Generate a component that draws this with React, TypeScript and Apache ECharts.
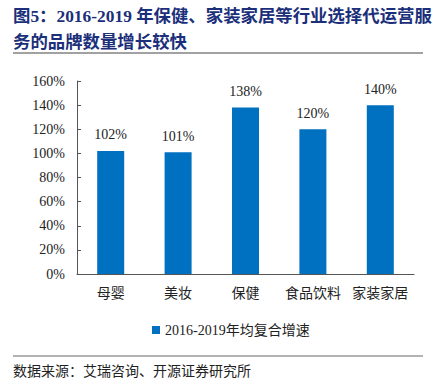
import React, { useEffect, useRef } from "react";
import * as echarts from "echarts";

const categories = ["母婴", "美妆", "保健", "食品饮料", "家装家居"];
const growthValues = [102, 101, 138, 120, 140];
const seriesName = "2016-2019年均复合增速";
const titleLine1 = "图5：2016-2019 年保健、家装家居等行业选择代运营服";
const titleLine2 = "务的品牌数量增长较快";
const sourceText = "数据来源：艾瑞咨询、开源证券研究所";

const SERIF = "'Liberation Serif', 'Noto Sans CJK SC', serif";

export default function App() {
  const ref = useRef<HTMLDivElement>(null);
  useEffect(() => {
    if (!ref.current) return;
    const chart = echarts.init(ref.current, undefined, { renderer: "svg" });
    chart.setOption({
      animation: false,
      backgroundColor: "#ffffff",
      grid: { left: 77, right: 21, top: 81, bottom: 111, containLabel: false },
      legend: {
        data: [seriesName],
        left: 147,
        top: 318,
        icon: "rect",
        itemWidth: 8,
        itemHeight: 8,
        itemGap: 10,
        textStyle: { fontFamily: SERIF, fontSize: 14, color: "#222" },
      },
      xAxis: {
        type: "category",
        data: categories,
        axisLine: { lineStyle: { color: "#555", width: 1 } },
        axisTick: { inside: true, length: 4, lineStyle: { color: "#555" } },
        axisLabel: { interval: 0, hideOverlap: false, fontFamily: SERIF, fontSize: 14, color: "#222", margin: 12 },
      },
      yAxis: {
        type: "value",
        min: 0,
        max: 160,
        interval: 20,
        axisLine: { show: true, lineStyle: { color: "#555", width: 1 } },
        axisTick: { show: true, inside: true, length: 4, lineStyle: { color: "#555" } },
        splitLine: { show: false },
        axisLabel: { formatter: "{value}%", fontFamily: SERIF, fontSize: 14, color: "#222", margin: 12 },
      },
      series: [
        {
          name: seriesName,
          type: "bar",
          data: growthValues,
          barWidth: 27,
          itemStyle: { color: "#0070C0" },
          label: {
            show: true,
            position: "top",
            distance: 9,
            formatter: "{c}%",
            fontFamily: SERIF,
            fontSize: 14,
            color: "#222",
          },
        },
      ],
      graphic: [
        {
          type: "text",
          left: 13,
          top: 7,
          style: { text: titleLine1, fontFamily: SERIF, fontSize: 17.4, fontWeight: "bold", fill: "#1B2F7A" },
        },
        {
          type: "text",
          left: 13,
          top: 33,
          style: { text: titleLine2, fontFamily: SERIF, fontSize: 17.4, fontWeight: "bold", fill: "#1B2F7A" },
        },
        {
          type: "line",
          shape: { x1: 13, y1: 53, x2: 423, y2: 53 },
          style: { stroke: "#444", lineWidth: 1 },
        },
        {
          type: "line",
          shape: { x1: 13, y1: 356, x2: 423, y2: 356 },
          style: { stroke: "#999", lineWidth: 1.5 },
        },
        {
          type: "text",
          left: 13,
          top: 364,
          style: { text: sourceText, fontFamily: SERIF, fontSize: 14, fill: "#222" },
        },
      ],
    });
    return () => chart.dispose();
  }, []);
  return <div ref={ref} style={{ position: "absolute", left: 0, top: 0, width: 435, height: 385 }} />;
}
